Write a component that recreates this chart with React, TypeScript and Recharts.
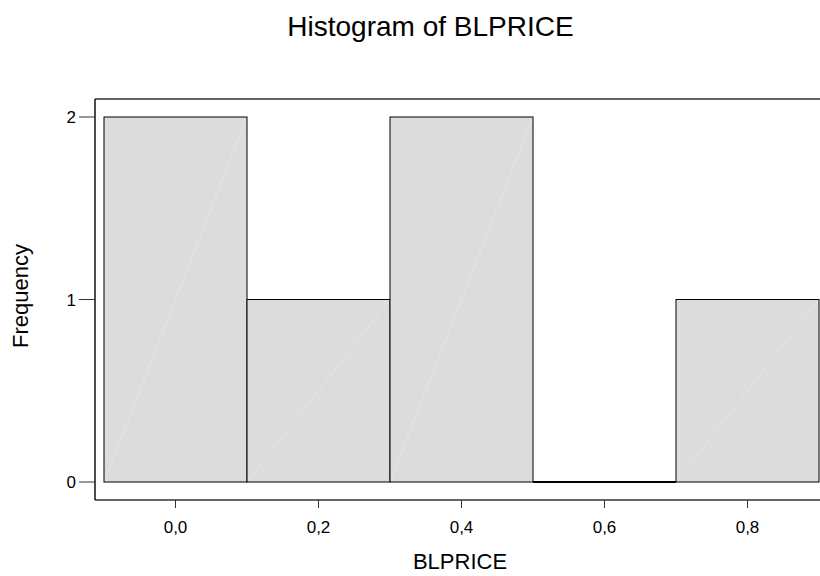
import React from 'react';
import { BarChart, Bar, XAxis, YAxis, Label, ReferenceLine } from 'recharts';

const binLabels = ['0,0', '0,2', '0,4', '0,6', '0,8'];
const frequencies = [2, 1, 2, 0, 1];
const yTicks = [0, 1, 2];
const yMin = -0.0986;
const yMax = 2.0986;

const data = binLabels.map((bin, i) => ({ bin, freq: frequencies[i] }));

const FONT = '"Liberation Sans", Arial, sans-serif';

const HistBar = (props: any) => {
  const { x, y, width, height } = props;
  if (!height || Math.abs(height) < 0.5) {
    return <line x1={x} x2={x + width} y1={y} y2={y} stroke="#000" strokeWidth={2} />;
  }
  return (
    <g>
      <rect x={x} y={y} width={width} height={height} fill="#DCDCDC" />
      <line x1={x} y1={y + height} x2={x + width} y2={y} stroke="#E5E5E5" strokeWidth={1} />
      <rect x={x} y={y} width={width} height={height} fill="none" stroke="#000" strokeWidth={1} />
    </g>
  );
};

export default function App() {
  return (
    <div style={{ position: 'absolute', left: 0, top: 0, width: 820, height: 576, background: '#fff' }}>
      <BarChart
        width={820}
        height={576}
        data={data}
        margin={{ top: 99, right: 0, bottom: 0, left: 0 }}
        barCategoryGap={0}
        barGap={0}
      >
        <XAxis
          dataKey="bin"
          height={76}
          tickSize={8}
          tickMargin={13}
          padding={{ left: 9, right: 1 }}
          axisLine={{ stroke: '#333', strokeWidth: 1.5 }}
          tickLine={{ stroke: '#333' }}
          tick={{ fill: '#000', fontSize: 17, fontFamily: FONT }}
        >
          <Label
            content={() => (
              <text x={460} y={569} textAnchor="middle" fontSize={22} fontFamily={FONT} fill="#000">
                BLPRICE
              </text>
            )}
          />
        </XAxis>
        <YAxis
          width={95}
          domain={[yMin, yMax]}
          ticks={yTicks}
          allowDataOverflow
          tickSize={16}
          tickMargin={3}
          axisLine={{ stroke: '#111', strokeWidth: 1.5 }}
          tickLine={{ stroke: '#333' }}
          tick={{ fill: '#000', fontSize: 17, fontFamily: FONT }}
        >
          <Label
            content={() => (
              <text
                x={28}
                y={296}
                transform="rotate(-90 28 296)"
                textAnchor="middle"
                fontSize={22}
                fontFamily={FONT}
                fill="#000"
              >
                Frequency
              </text>
            )}
          />
        </YAxis>
        <ReferenceLine y={yMax} ifOverflow="visible" stroke="#333" strokeWidth={1.5} />
        <Bar dataKey="freq" shape={HistBar} isAnimationActive={false} />
      </BarChart>
      <div
        style={{
          position: 'absolute',
          left: 0,
          width: 861,
          top: 10,
          textAlign: 'center',
          fontFamily: FONT,
          fontSize: 28,
          lineHeight: '34px',
          color: '#000',
        }}
      >
        Histogram of BLPRICE
      </div>
    </div>
  );
}
